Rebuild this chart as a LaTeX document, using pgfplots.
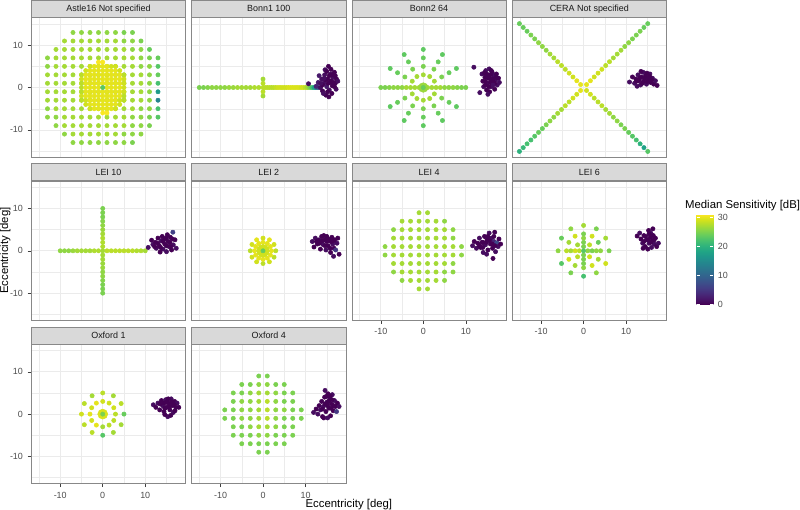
\documentclass[border=0pt]{standalone}
\usepackage{fontspec}
\setmainfont{Liberation Sans}
\usepackage{pgfplots}
\pgfplotsset{compat=1.18}
\usepgfplotslibrary{groupplots}
\usetikzlibrary{calc}

\definecolor{stripfill}{HTML}{D9D9D9}
\definecolor{framegray}{HTML}{888888}
\definecolor{gridgray}{HTML}{EBEBEB}
\definecolor{ticktext}{HTML}{4D4D4D}
\newcommand{\tsz}{\fontsize{6.7}{8}\selectfont}
\newcommand{\lsz}{\fontsize{8.5}{10}\selectfont}

\pgfplotsset{
  every axis title shift=0pt,
  dots/.style={scatter, only marks, mark=*, mark size=1.6pt, point meta=explicit,
    scatter/use mapped color={draw=mapped color, fill=mapped color}},
  big/.style={dots, mark size=3.6pt},
  nox/.style={xticklabels={}, xtick style={draw=none}},
  noy/.style={yticklabels={}, ytick style={draw=none}},
}

\begin{document}
\begin{tikzpicture}
\begin{groupplot}[
  group style={group name=G, group size=4 by 3, horizontal sep=4.5pt, vertical sep=18pt},
  width=115.5pt, height=104.25pt, scale only axis,
  xmin=-16.8, xmax=19.5, ymin=-16.4, ymax=16.5,
  xtick={-10,0,10}, ytick={-10,0,10},
  xticklabels={-10,0,10}, yticklabels={-10,0,10},
  minor xtick={-15,-5,5,15}, minor ytick={-15,-5,5,15},
  grid=both,
  major grid style={line width=0.5pt, draw=gridgray},
  minor grid style={line width=0.25pt, draw=gridgray},
  axis line style={draw=framegray, line width=0.5pt},
  tick align=outside, major tick length=2.75pt, minor tick length=0pt,
  xtick pos=bottom, ytick pos=left,
  tick style={draw=black!75, line width=0.4pt},
  ticklabel style={font=\tsz, text=ticktext},
  point meta min=0, point meta max=31.2,
  colormap/viridis,
  title style={at={(0.5,1)}, anchor=south, yshift=0pt, fill=stripfill, draw=framegray,
    line width=0.5pt, minimum width=115.5pt, minimum height=12.75pt, inner sep=0pt,
    font=\tsz, text=black!90},
]

% ---------------- Astle16
\nextgroupplot[title={Astle16 Not specified}, nox]
\addplot[dots] table[row sep=\\, meta=c] {x y c\\
-7 13 26\\-5 13 26\\-3 13 26\\-1 13 26\\1 13 26\\3 13 26\\5 13 25\\7 13 25\\
-9 11 27\\-7 11 27\\-5 11 27\\-3 11 27\\-1 11 27\\1 11 27\\3 11 27\\5 11 26\\7 11 26\\9 11 25\\
-11 9 27\\-9 9 27\\-7 9 27\\-5 9 27\\-3 9 27\\-1 9 27\\1 9 27\\3 9 27\\5 9 27\\7 9 26\\9 9 26\\11 9 24\\
-13 7 26\\-11 7 27\\-9 7 27\\-7 7 27\\-5 7 27\\-3 7 27\\-1 7 27\\1 7 27\\3 7 27\\5 7 27\\7 7 27\\9 7 26\\11 7 25\\13 7 24\\
-13 5 26\\-11 5 27\\-9 5 27\\-7 5 27\\-5 5 27\\-3 5 27\\-1 5 27\\1 5 27\\3 5 27\\5 5 27\\7 5 27\\9 5 26\\11 5 26\\13 5 23\\
-13 3 27\\-11 3 27\\-9 3 27\\-7 3 27\\-5 3 27\\-3 3 27\\-1 3 27\\1 3 27\\3 3 27\\5 3 27\\7 3 27\\9 3 27\\11 3 26\\13 3 24\\
-13 1 27\\-11 1 27\\-9 1 27\\-7 1 27\\-5 1 27\\-3 1 27\\-1 1 27\\1 1 27\\3 1 27\\5 1 27\\7 1 27\\9 1 27\\11 1 26\\13 1 22\\
-13 -1 27\\-11 -1 27\\-9 -1 27\\-7 -1 27\\-5 -1 27\\-3 -1 27\\-1 -1 27\\1 -1 27\\3 -1 27\\5 -1 27\\7 -1 27\\9 -1 27\\11 -1 26\\13 -1 17\\
-13 -3 27\\-11 -3 27\\-9 -3 27\\-7 -3 27\\-5 -3 27\\-3 -3 27\\-1 -3 27\\1 -3 27\\3 -3 27\\5 -3 27\\7 -3 27\\9 -3 27\\11 -3 26\\13 -3 14\\
-13 -5 26\\-11 -5 27\\-9 -5 27\\-7 -5 27\\-5 -5 27\\-3 -5 27\\-1 -5 27\\1 -5 27\\3 -5 27\\5 -5 27\\7 -5 27\\9 -5 26\\11 -5 26\\13 -5 22\\
-13 -7 26\\-11 -7 26\\-9 -7 27\\-7 -7 27\\-5 -7 27\\-3 -7 27\\-1 -7 27\\1 -7 27\\3 -7 27\\5 -7 27\\7 -7 26\\9 -7 26\\11 -7 25\\13 -7 23\\
-11 -9 26\\-9 -9 27\\-7 -9 27\\-5 -9 27\\-3 -9 27\\-1 -9 27\\1 -9 27\\3 -9 27\\5 -9 27\\7 -9 26\\9 -9 26\\11 -9 25\\
-9 -11 26\\-7 -11 27\\-5 -11 27\\-3 -11 27\\-1 -11 27\\1 -11 27\\3 -11 27\\5 -11 26\\7 -11 26\\9 -11 26\\
-7 -13 26\\-5 -13 26\\-3 -13 26\\-1 -13 26\\1 -13 26\\3 -13 26\\5 -13 26\\7 -13 25\\
};
\addplot[dots] table[row sep=\\, meta=c] {x y c\\
-1 6 31\\0 6 31\\
-3 5 29\\-2 5 30\\-1 5 30\\0 5 30\\1 5 30\\2 5 29\\3 5 29\\
-4 4 29\\-3 4 30\\-2 4 30\\-1 4 30\\0 4 30\\1 4 30\\2 4 30\\3 4 30\\4 4 29\\
-5 3 28\\-4 3 30\\-3 3 30\\-2 3 30\\-1 3 30\\0 3 30\\1 3 30\\2 3 30\\3 3 30\\4 3 30\\5 3 28\\
-5 2 29\\-4 2 30\\-3 2 30\\-2 2 30\\-1 2 30\\0 2 30\\1 2 30\\2 2 30\\3 2 30\\4 2 30\\5 2 29\\
-5 1 28\\-4 1 30\\-3 1 30\\-2 1 30\\-1 1 30\\0 1 30\\1 1 30\\2 1 30\\3 1 30\\4 1 30\\5 1 29\\
-5 0 28\\-4 0 30\\-3 0 30\\-2 0 30\\-1 0 30\\1 0 30\\2 0 30\\3 0 30\\4 0 30\\5 0 29\\
-5 -1 28\\-4 -1 30\\-3 -1 30\\-2 -1 30\\-1 -1 30\\0 -1 30\\1 -1 30\\2 -1 30\\3 -1 30\\4 -1 30\\5 -1 29\\
-5 -2 29\\-4 -2 30\\-3 -2 30\\-2 -2 30\\-1 -2 30\\0 -2 30\\1 -2 30\\2 -2 30\\3 -2 30\\4 -2 30\\5 -2 28\\
-5 -3 28\\-4 -3 29\\-3 -3 30\\-2 -3 30\\-1 -3 30\\0 -3 30\\1 -3 30\\2 -3 30\\3 -3 30\\4 -3 29\\5 -3 28\\
-4 -4 29\\-3 -4 30\\-2 -4 30\\-1 -4 30\\0 -4 30\\1 -4 30\\2 -4 30\\3 -4 30\\4 -4 29\\
-3 -5 29\\-2 -5 30\\-1 -5 30\\0 -5 30\\1 -5 30\\2 -5 30\\3 -5 29\\
0 -6 31\\1 -6 31\\
0 0 23\\
};

% ---------------- Bonn1 100
\nextgroupplot[title={Bonn1 100}, nox, noy]
\addplot[dots] table[row sep=\\, meta=c] {x y c\\
-15 0 25\\-14 0 25\\-13 0 25.5\\-12 0 26\\-11 0 26\\-10 0 26\\-9 0 26\\-8 0 26.5\\
-7 0 26.5\\-6 0 27\\-5 0 27\\-4 0 27\\-3 0 27\\-2 0 27.5\\-1 0 27.5\\
0 -2 27\\0 -1 28\\0 1 28\\0 2 27\\0 0 28\\
0.5 0 28\\1 0 28\\1.5 0 28\\2 0 28\\2.5 0 28\\3 0 28.5\\3.5 0 29\\4 0 29\\4.5 0 29\\
5 0 29\\5.5 0 29\\6 0 29.5\\6.5 0 29.5\\7 0 29.5\\7.5 0 29.5\\8 0 29.5\\8.5 0 29.5\\
9 0 29\\9.5 0 29\\10 0 28\\10.5 0 27\\11 0 25\\11.5 0 22\\12 0 18\\12.5 0 13\\13 0 8\\
};
\addplot[dots] table[row sep=\\, meta=c] {x y c\\
10.7 0.9 1\\12.5 0.3 3\\13.0 1.2 2\\13.5 0.0 1\\13.8 2.0 1\\14.0 -0.8 0\\14.3 1.0 1\\
14.5 3.0 1\\14.6 4.2 1\\14.8 -1.8 0\\15.0 0.2 2\\15.2 2.0 0\\15.4 5.0 0\\15.6 -0.6 1\\
15.8 1.2 0\\15.9 3.2 1\\16.2 -1.4 0\\16.3 0.4 0\\16.5 2.4 1\\16.8 3.6 0\\17.0 1.0 0\\
17.2 -0.4 1\\17.3 2.0 0\\17.6 1.5 1\\15.5 -2.2 0\\14.2 -1.4 1\\16.0 4.3 0\\13.2 2.8 2\\
14.0 0.6 0\\14.7 1.8 0\\15.3 1.0 0\\15.6 2.8 0\\16.0 1.6 0\\16.6 1.2 0\\14.4 2.2 1\\
15.0 3.8 0\\16.3 3.0 0\\13.6 1.0 1\\15.2 -1.0 0\\16.8 0.2 0\\17.0 2.8 0\\
};

% ---------------- Bonn2 64
\nextgroupplot[title={Bonn2 64}, nox, noy]
\addplot[dots] table[row sep=\\, meta=c] {x y c\\
-10 0 25\\-9 0 25\\-8 0 25.5\\-7 0 26\\-6 0 26\\-5 0 26\\-4 0 27\\-3 0 27\\-2 0 27\\-1 0 27\\
1 0 27\\2 0 27\\3 0 27\\4 0 27\\5 0 26\\6 0 26\\7 0 26\\8 0 25.5\\9 0 25\\10 0 25\\
2.6 1.5 27\\1.5 2.6 27\\0 3 27\\-1.5 2.6 27\\-2.6 1.5 27\\-2.6 -1.5 27\\-1.5 -2.6 27\\0 -3 27\\1.5 -2.6 27\\2.6 -1.5 27\\
4.33 2.5 25\\2.5 4.33 25\\0 5 25\\-2.5 4.33 25\\-4.33 2.5 25\\-4.33 -2.5 25\\-2.5 -4.33 25\\0 -5 25\\2.5 -4.33 25\\4.33 -2.5 25\\
6.06 3.5 24\\3.5 6.06 24\\0 7 24\\-3.5 6.06 24\\-6.06 3.5 24\\-6.06 -3.5 24\\-3.5 -6.06 24\\0 -7 24\\3.5 -6.06 24\\6.06 -3.5 24\\
7.79 4.5 23.5\\4.5 7.79 23.5\\0 9 23.5\\-4.5 7.79 23.5\\-7.79 4.5 23.5\\-7.79 -4.5 23.5\\-4.5 -7.79 23.5\\0 -9 23.5\\4.5 -7.79 23.5\\7.79 -4.5 23.5\\
};
\addplot[big] table[row sep=\\, meta=c] {x y c\\ 0 0 26.5\\};
\addplot[dots] table[row sep=\\, meta=c] {x y c\\ 0 0 24\\};
\addplot[dots] table[row sep=\\, meta=c] {x y c\\
11.9 4.8 1\\13.3 -1.2 1\\13.8 3.2 1\\14.0 1.5 0\\14.2 0.2 1\\14.5 2.4 0\\14.7 4.0 1\\
14.9 -0.6 0\\15.1 1.0 1\\15.3 3.0 0\\15.5 4.4 1\\15.6 -1.0 0\\15.8 2.0 0\\16.0 0.2 1\\
16.2 3.6 0\\16.4 1.2 0\\16.6 2.8 1\\16.8 -0.4 0\\17.0 1.8 1\\17.2 3.2 0\\17.4 0.6 1\\
17.7 2.2 0\\17.9 1.2 1\\16.0 4.0 0\\14.4 3.5 0\\15.2 -1.6 1\\
14.6 1.4 0\\15.2 2.2 0\\15.8 3.0 0\\16.4 2.0 0\\15.4 0.2 0\\16.8 1.0 0\\14.8 3.2 0\\
17.2 2.4 0\\15.8 1.2 0\\16.4 0.6 1\\14.6 0.6 0\\
};

% ---------------- CERA
\nextgroupplot[title={CERA Not specified}, nox, noy]
\addplot[dots] table[row sep=\\, meta=c] {x y c\\
0.7 0.7 30\\1.6 1.6 30\\2.5 2.5 29\\3.4 3.4 29\\4.3 4.3 29\\5.2 5.2 28\\6.1 6.1 28\\7.0 7.0 27\\7.9 7.9 27\\
8.8 8.8 27\\9.7 9.7 26\\10.6 10.6 26\\11.5 11.5 25\\12.4 12.4 25\\13.3 13.3 25\\14.2 14.2 24\\15.1 15.1 24\\
-0.7 0.7 30\\-1.6 1.6 30\\-2.5 2.5 29\\-3.4 3.4 29\\-4.3 4.3 28\\-5.2 5.2 28\\-6.1 6.1 28\\-7.0 7.0 27\\-7.9 7.9 27\\
-8.8 8.8 26\\-9.7 9.7 26\\-10.6 10.6 26\\-11.5 11.5 25\\-12.4 12.4 25\\-13.3 13.3 24\\-14.2 14.2 24\\-15.1 15.1 24\\
0.7 -0.7 29\\1.6 -1.6 29\\2.5 -2.5 28\\3.4 -3.4 28\\4.3 -4.3 28\\5.2 -5.2 27\\6.1 -6.1 27\\7.0 -7.0 26\\7.9 -7.9 26\\
8.8 -8.8 25\\9.7 -9.7 25\\10.6 -10.6 24\\11.5 -11.5 23\\12.4 -12.4 22\\13.3 -13.3 20\\14.2 -14.2 18\\15.1 -15.1 23\\
-0.7 -0.7 30\\-1.6 -1.6 29\\-2.5 -2.5 29\\-3.4 -3.4 28\\-4.3 -4.3 28\\-5.2 -5.2 27\\-6.1 -6.1 27\\-7.0 -7.0 26\\-7.9 -7.9 26\\
-8.8 -8.8 25\\-9.7 -9.7 24\\-10.6 -10.6 24\\-11.5 -11.5 23\\-12.4 -12.4 22\\-13.3 -13.3 22\\-14.2 -14.2 21\\-15.1 -15.1 20\\
};
\addplot[dots] table[row sep=\\, meta=c] {x y c\\
10.8 1.3 1\\11.5 2.5 0\\12.0 1.0 1\\12.3 2.0 0\\12.8 3.0 1\\13.0 1.6 0\\13.4 0.6 1\\
13.6 2.5 0\\14.0 3.6 1\\14.1 1.5 0\\14.6 2.8 0\\14.8 0.8 1\\15.2 2.0 0\\15.6 3.2 1\\
15.8 1.2 0\\16.2 2.2 1\\16.5 0.8 0\\16.9 1.6 1\\17.3 0.5 0\\13.5 3.8 0\\12.6 0.3 1\\
13.2 2.2 0\\14.4 2.2 0\\15.0 1.4 0\\13.8 1.0 0\\14.9 3.4 0\\16.0 1.8 0\\12.5 1.5 0\\15.5 2.6 0\\
};

% ---------------- LEI 10
\nextgroupplot[title={LEI 10}, nox]
\addplot[dots] table[row sep=\\, meta=c] {x y c\\
-10 0 26\\-9 0 26\\-8 0 26\\-7 0 26.5\\-6 0 27\\-5 0 27\\-4 0 27\\-3 0 27\\-2 0 27.5\\-1 0 27.5\\
0 10 25\\0 9 25\\0 8 25\\0 7 25.5\\0 6 26\\0 5 26.5\\0 4 27\\0 3 27.5\\0 2 27.5\\0 1 27.5\\
0 -1 27\\0 -2 27\\0 -3 26.5\\0 -4 26.5\\0 -5 26\\0 -6 26\\0 -7 25.5\\0 -8 25\\0 -9 25\\0 -10 25\\
0 0 27\\1 0 28\\2 0 28\\3 0 28\\4 0 28\\5 0 28\\6 0 28\\7 0 28\\8 0 27.5\\9 0 27.5\\10 0 27\\
};
\addplot[dots] table[row sep=\\, meta=c] {x y c\\
10.7 0.8 1\\11.5 2.5 0\\11.8 1.5 1\\12.4 2.0 0\\12.6 0.6 1\\13.0 3.0 0\\13.3 1.2 0\\
13.8 2.4 1\\14.0 3.4 0\\14.2 0.4 1\\14.6 1.6 0\\14.9 3.0 0\\15.0 -0.2 1\\15.4 2.2 0\\
15.6 1.0 1\\15.9 3.2 0\\16.2 0.2 0\\16.5 4.4 6\\16.6 1.4 1\\17.0 2.6 0\\17.3 0.6 1\\
15.2 3.8 0\\13.5 -0.3 0\\
13.0 1.8 0\\14.2 2.2 0\\15.0 1.2 0\\15.8 2.0 0\\16.4 2.8 0\\14.6 2.8 0\\13.6 0.8 0\\16.0 1.0 0\\12.2 1.0 0\\
};

% ---------------- LEI 2
\nextgroupplot[title={LEI 2}, nox, noy]
\addplot[dots] table[row sep=\\, meta=c] {x y c\\
3 0 28\\2.6 1.5 29\\1.5 2.6 30\\0 3 29\\-1.5 2.6 30\\-2.6 1.5 29\\-3 0 28\\-2.6 -1.5 29\\-1.5 -2.6 29\\0 -3 28\\1.5 -2.6 29\\2.6 -1.5 28\\
2 0 30\\1.73 1 30\\1 1.73 30\\0 2 30\\-1 1.73 30\\-1.73 1 30\\-2 0 30\\-1.73 -1 30\\-1 -1.73 30\\0 -2 30\\1 -1.73 30\\1.73 -1 30\\
1 0 29\\0.87 0.5 29\\0.5 0.87 29\\0 1 29\\-0.5 0.87 29\\-0.87 0.5 29\\-1 0 29\\-0.87 -0.5 29\\-0.5 -0.87 29\\0 -1 29\\0.5 -0.87 29\\0.87 -0.5 29\\
0 0 24\\
};
\addplot[dots] table[row sep=\\, meta=c] {x y c\\
11.6 2.2 1\\12.0 0.9 0\\12.3 3.0 1\\12.8 1.6 0\\13.2 2.6 1\\13.5 0.4 0\\13.8 3.4 0\\
14.1 1.5 1\\14.5 2.6 0\\14.8 0.2 1\\15.0 3.4 0\\15.3 1.2 0\\15.6 2.4 1\\15.9 -0.4 0\\
16.2 3.2 0\\16.4 1.6 1\\16.7 0.6 0\\16.9 2.6 0\\17.1 0.2 5\\17.4 1.8 1\\17.6 3.0 0\\
17.9 -0.8 0\\16.6 -1.3 1\\14.3 3.6 0\\13.3 1.8 0\\
13.0 2.4 0\\14.0 2.4 0\\15.0 2.2 0\\15.4 2.8 0\\16.0 2.2 0\\16.6 2.4 0\\14.6 1.2 0\\15.8 0.6 0\\12.6 2.2 0\\
};

% ---------------- LEI 4
\nextgroupplot[title={LEI 4}, noy]
\addplot[dots] table[row sep=\\, meta=c] {x y c\\
-1 9 27\\1 9 27\\
-5 7 27\\-3 7 27\\-1 7 27\\1 7 27\\3 7 27\\5 7 26\\
-7 5 26\\-5 5 27\\-3 5 27\\-1 5 27\\1 5 27\\3 5 27\\5 5 27\\7 5 26\\
-7 3 27\\-5 3 27\\-3 3 27\\-1 3 27\\1 3 27\\3 3 27\\5 3 27\\7 3 26\\
-9 1 26\\-7 1 27\\-5 1 27\\-3 1 27\\-1 1 27\\1 1 27\\3 1 27\\5 1 27\\7 1 27\\9 1 26\\
-9 -1 26\\-7 -1 27\\-5 -1 27\\-3 -1 27\\-1 -1 27\\1 -1 27\\3 -1 27\\5 -1 27\\7 -1 27\\9 -1 26\\
-7 -3 27\\-5 -3 27\\-3 -3 27\\-1 -3 27\\1 -3 27\\3 -3 27\\5 -3 27\\7 -3 26\\
-7 -5 26\\-5 -5 27\\-3 -5 27\\-1 -5 27\\1 -5 27\\3 -5 27\\5 -5 26\\7 -5 26\\
-5 -7 26\\-3 -7 27\\-1 -7 27\\1 -7 27\\3 -7 27\\5 -7 26\\
-1 -9 27\\1 -9 27\\
};
\addplot[dots] table[row sep=\\, meta=c] {x y c\\
11.6 1.2 1\\12.0 2.2 0\\12.5 0.6 1\\12.8 1.8 0\\13.2 3.0 1\\13.5 0.8 0\\13.8 2.0 0\\
14.1 -0.4 1\\14.4 3.4 0\\14.6 1.4 1\\15.0 2.6 0\\15.2 0.2 0\\15.5 4.2 1\\15.8 1.6 0\\
16.0 3.0 1\\16.3 0.6 0\\16.6 2.2 3\\16.8 4.4 0\\17.0 -0.2 1\\17.3 1.9 7\\17.6 1.0 1\\
17.8 2.8 0\\18.2 1.6 0\\16.4 -1.8 0\\14.9 -0.8 1\\
13.2 1.2 0\\14.0 2.0 0\\14.8 2.0 0\\15.6 2.4 0\\16.2 1.6 0\\16.8 1.2 0\\15.2 3.4 0\\14.0 0.8 0\\16.6 3.4 0\\
};

% ---------------- LEI 6
\nextgroupplot[title={LEI 6}, noy,
  colorbar,
  colorbar style={
    at={(parent axis.north east)}, anchor=north west,
    xshift=14pt, yshift=-24.75pt,
    width=12.5pt, height=67.5pt, scale only axis,
    ytick={0,10,20,30}, yticklabels={0,10,20,30},
    minor ytick={}, grid=none,
    yticklabel pos=right, ytick pos=both,
    tick align=inside, major tick length=2.5pt,
    ytick style={draw=white, line width=0.5pt},
    axis line style={draw=none},
    yticklabel style={font=\tsz, text=ticktext},
  }]
\addplot[dots] table[row sep=\\, meta=c] {x y c\\
6 0 25\\5.2 3 27\\3 5.2 25\\0 6 27\\-3 5.2 26\\-5.2 3 24\\-6 0 26\\-5.2 -3 23\\-3 -5.2 25\\0 -6 22\\3 -5.2 26\\5.2 -3 29\\
4 0 26\\3.46 2 24\\2 3.46 29\\0 4 25\\-2 3.46 29\\-3.46 2 27\\-4 0 28\\-3.46 -2 29\\-2 -3.46 27\\0 -4 26\\2 -3.46 29\\3.46 -2 27\\
1 0 26\\2 0 25\\3 0 26\\-1 0 28\\-2 0 29\\-3 0 27\\
0 1 25\\0 2 25\\0 3 26\\0 -1 25\\0 -2 25\\0 -3 25\\
1.41 1.41 28\\-1.41 1.41 27\\-1.41 -1.41 28\\1.41 -1.41 29\\
0 0 23\\
};
\addplot[dots] table[row sep=\\, meta=c] {x y c\\
12.6 3.5 0\\13.2 4.2 1\\13.5 2.8 0\\13.9 1.8 1\\14.2 3.6 0\\14.5 1.0 0\\14.8 2.6 1\\
15.1 0.4 0\\15.3 4.8 0\\15.4 1.8 1\\15.7 3.2 0\\16.0 0.8 1\\16.2 2.4 0\\16.3 5.2 0\\
16.6 1.6 1\\16.9 3.0 0\\17.2 1.0 0\\17.6 1.8 1\\14.0 0.6 0\\15.8 4.2 1\\
14.6 3.4 0\\15.2 2.6 0\\15.8 2.0 0\\16.4 3.6 0\\15.4 4.0 0\\16.6 2.6 0\\14.2 2.2 0\\
};

% ---------------- Oxford 1
\nextgroupplot[title={Oxford 1}]
\addplot[dots] table[row sep=\\, meta=c] {x y c\\
5 0 24\\4.33 2.5 28\\2.5 4.33 27\\0 5 28\\-2.5 4.33 27\\-4.33 2.5 28\\-5 0 29\\-4.33 -2.5 28\\-2.5 -4.33 28\\0 -5 23\\2.5 -4.33 27\\4.33 -2.5 27\\
3 0 28\\2.6 1.5 29\\1.5 2.6 29\\0 3 29\\-1.5 2.6 30\\-2.6 1.5 29\\-3 0 30\\-2.6 -1.5 29\\-1.5 -2.6 30\\0 -3 27\\1.5 -2.6 28\\2.6 -1.5 28\\
};
\addplot[big, mark size=3.75pt] table[row sep=\\, meta=c] {x y c\\ 0 0 29.5\\};
\addplot[dots] table[row sep=\\, meta=c] {x y c\\ 0 0 25\\};
\addplot[dots] table[row sep=\\, meta=c] {x y c\\
11.9 2.2 1\\12.5 1.6 0\\13.0 2.6 1\\13.4 1.0 0\\13.8 3.2 0\\14.1 2.0 1\\14.4 0.6 0\\
14.8 3.4 1\\15.0 1.6 0\\15.3 -0.6 1\\15.5 2.6 0\\15.8 1.0 0\\16.1 3.6 1\\16.3 2.0 0\\
16.6 0.4 1\\16.9 3.0 0\\17.2 1.6 0\\17.5 2.6 1\\17.9 1.6 0\\14.6 -0.1 0\\16.0 -0.3 0\\13.5 2.4 0\\
14.4 2.6 0\\15.0 2.8 0\\15.6 1.8 0\\16.2 2.8 0\\16.8 2.2 0\\14.6 1.4 0\\17.0 0.8 0\\15.4 3.6 0\\
};

% ---------------- Oxford 4
\nextgroupplot[title={Oxford 4}, noy]
\addplot[dots] table[row sep=\\, meta=c] {x y c\\
-1 9 25\\1 9 25\\
-5 7 25\\-3 7 25\\-1 7 26\\1 7 26\\3 7 25\\5 7 25\\
-7 5 25\\-5 5 25\\-3 5 26\\-1 5 27\\1 5 27\\3 5 26\\5 5 25\\7 5 25\\
-7 3 25\\-5 3 26\\-3 3 26\\-1 3 27\\1 3 28\\3 3 26\\5 3 25\\7 3 25\\
-9 1 25\\-7 1 25\\-5 1 26\\-3 1 26\\-1 1 27\\1 1 28\\3 1 26\\5 1 26\\7 1 25\\9 1 25\\
-9 -1 25\\-7 -1 25\\-5 -1 26\\-3 -1 26\\-1 -1 27\\1 -1 28\\3 -1 26\\5 -1 25\\7 -1 25\\9 -1 25\\
-7 -3 25\\-5 -3 25\\-3 -3 26\\-1 -3 27\\1 -3 27\\3 -3 26\\5 -3 25\\7 -3 25\\
-7 -5 25\\-5 -5 25\\-3 -5 25\\-1 -5 26\\1 -5 26\\3 -5 25\\5 -5 25\\7 -5 25\\
-5 -7 25\\-3 -7 25\\-1 -7 25\\1 -7 25\\3 -7 25\\5 -7 25\\
-1 -9 25\\1 -9 25\\
};
\addplot[dots] table[row sep=\\, meta=c] {x y c\\
11.9 0.4 1\\12.5 1.2 0\\12.9 0.0 1\\13.2 2.0 0\\13.5 1.0 1\\13.8 3.0 0\\14.0 -0.6 0\\
14.2 1.8 1\\14.5 4.0 0\\14.6 5.6 1\\14.8 0.6 0\\15.0 2.8 1\\15.3 4.8 0\\15.5 1.4 0\\
15.7 3.6 1\\15.9 -0.4 0\\16.1 2.4 0\\16.3 4.6 1\\16.5 0.8 0\\16.8 3.2 1\\17.0 1.8 0\\
17.3 0.6 5\\17.5 2.6 0\\17.9 1.8 1\\14.3 -0.9 0\\15.2 -0.9 1\\
14.6 2.4 0\\15.4 3.0 0\\16.0 1.4 0\\15.2 2.0 0\\16.6 2.0 0\\14.9 4.2 0\\15.8 4.2 0\\14.0 1.2 0\\16.2 3.4 0\\
};
\end{groupplot}

% axis titles and legend title
\coordinate (xc) at ($(G c1r1.north west)!0.5!(G c4r1.north east)$);
\coordinate (yb) at ($(G c1r3.south west)+(0,-15.75pt)$);
\node[font=\lsz, inner sep=0pt] at (xc |- yb) {Eccentricity [deg]};
\node[font=\lsz, inner sep=0pt, rotate=90] at ($(G c1r2.west)+(-19.5pt,0)$) {Eccentricity [deg]};
\node[font=\lsz, inner sep=0pt, anchor=base west] at ($(G c4r2.north east)+(13.8pt,-20.5pt)$) {Median Sensitivity [dB]};
\end{tikzpicture}
\end{document}
